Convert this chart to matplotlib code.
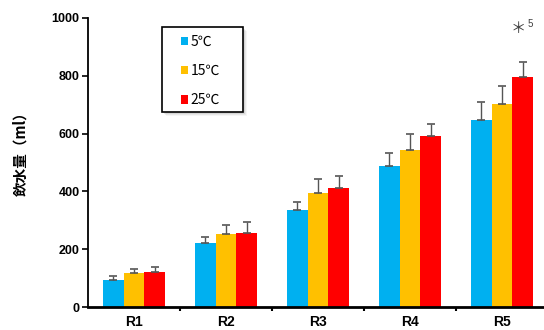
import matplotlib
matplotlib.use("Agg")
import matplotlib.pyplot as plt
from matplotlib.patches import Patch, Rectangle
import numpy as np

categories = ["R1", "R2", "R3", "R4", "R5"]
series_labels = ["5℃", "15℃", "25℃"]
values_5 = [93, 221, 334, 488, 647]
values_15 = [117, 253, 394, 542, 701]
values_25 = [121, 255, 411, 592, 797]
err_5 = [14, 21, 29, 46, 63]
err_15 = [14, 32, 49, 58, 65]
err_25 = [17, 38, 43, 42, 52]
yticks = [0, 200, 400, 600, 800, 1000]
colors = ["#00B0F0", "#FFC000", "#FF0000"]

W, H = 544, 330
fig = plt.figure(figsize=(W/100, H/100), dpi=100)
ax = fig.add_axes([88/W, (H-307)/H, 1 - 88/W, (307-18)/H])

x = np.arange(len(categories))
w = 0.228
series = [(values_5, err_5), (values_15, err_15), (values_25, err_25)]
for i, ((vals, errs), c) in enumerate(zip(series, colors)):
    ax.bar(x + (i - 1) * w, vals, width=w, color=c, edgecolor='none', zorder=2)
    ax.errorbar(x + (i - 1) * w, vals, yerr=[np.zeros(len(errs)), errs],
                fmt='none', ecolor='#555555', elinewidth=1.0, capsize=3,
                capthick=1.2, zorder=3)

ax.set_ylim(0, 1000)
ax.set_xlim(-0.5, -0.5 + (W - 88) / 92)
ax.set_yticks(yticks)
ax.set_yticklabels([str(t) for t in yticks], fontsize=9, fontweight='bold',
                   family='Liberation Sans')
ax.set_xticks(x)
ax.set_xticklabels(categories, fontsize=10, fontweight='bold', family='Liberation Sans')
ax.tick_params(axis='x', which='major', length=0, pad=6)
ax.set_xticks(np.arange(0.5, 4.5, 1.0), minor=True)
ax.tick_params(axis='x', which='minor', length=3, width=1.5, direction='out')
ax.tick_params(axis='y', length=4, width=1.2, direction='out', pad=2)

for s in ['top', 'right']:
    ax.spines[s].set_visible(False)
ax.spines['left'].set_linewidth(1.3)
ax.spines['bottom'].set_linewidth(2)

ax.set_ylabel("飲水量（ml）", family=['Noto Sans CJK JP', 'DejaVu Sans'],
              fontsize=10.5, fontweight='bold')
ax.yaxis.set_label_coords((28 - 88) / (W - 88), (307 - 150) / 289)

# legend box (frame + soft shadow) in figure pixel coordinates
def fig_rect(x0, y0, x1, y1, **kw):
    return Rectangle((x0 / W, 1 - y1 / H), (x1 - x0) / W, (y1 - y0) / H,
                     transform=fig.transFigure, **kw)

for k, a in [(4, 0.08), (3, 0.12), (2, 0.18)]:
    fig.patches.append(fig_rect(162 + k, 27 + k, 243 + k, 112 + k,
                                facecolor='#888888', edgecolor='none', alpha=a, zorder=4))
fig.patches.append(fig_rect(162, 27, 243, 112, facecolor='white',
                            edgecolor='black', linewidth=1.2, zorder=5))

handles = [Patch(facecolor=c, edgecolor='none') for c in colors]
leg = fig.legend(handles, series_labels, loc='upper left',
                 bbox_to_anchor=(178 / W, 1 - 32 / H),
                 prop={'family': ['Noto Sans CJK JP', 'DejaVu Sans'], 'size': 10},
                 handlelength=0.55, handleheight=0.55, handletextpad=0.15,
                 labelspacing=1.1, borderpad=0.2, borderaxespad=0,
                 frameon=False)
leg.set_zorder(6)

ax.text(4 + w - 0.05, 962, "＊", ha='center', va='center', fontsize=11,
        family=['Noto Sans CJK JP', 'DejaVu Sans'], color='#404040')
ax.text(4 + w + 0.045, 980, "5", ha='left', va='center', fontsize=7,
        family='Liberation Sans', color='#404040')

fig.savefig("out.png", dpi=100)
